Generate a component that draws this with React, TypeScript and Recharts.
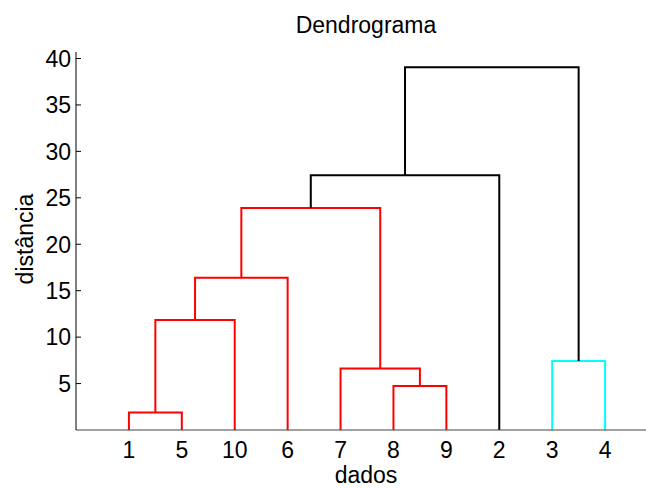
import { LineChart, Line, XAxis, YAxis } from 'recharts';

// leaf labels in the order they appear along the bottom
const leafOrder = [1, 5, 10, 6, 7, 8, 9, 2, 3, 4];

// linkage rows: ids 1-10 are leaves, 11+ are the clusters made by earlier rows
const linkLeft = [1, 8, 7, 3, 11, 15, 16, 17, 18];
const linkRight = [5, 9, 12, 4, 10, 6, 13, 2, 14];
const linkHeight = [1.89, 4.73, 6.63, 7.42, 11.84, 16.4, 23.9, 27.42, 39.06];
const linkColor = ['#ff0000', '#ff0000', '#ff0000', '#00ffff', '#ff0000', '#ff0000', '#ff0000', '#000000', '#000000'];

const yTicks = [5, 10, 15, 20, 25, 30, 35, 40];
const xTicks = leafOrder.map((_, i) => i + 1);

const FONT = '"Liberation Sans", Arial, sans-serif';
const FONT_SIZE = 23;

// turn the linkage rows into the usual upside-down U shapes
function buildLinks() {
  const pos: Record<number, number> = {};
  const height: Record<number, number> = {};
  leafOrder.forEach((leaf, i) => {
    pos[leaf] = i + 1;
    height[leaf] = 0;
  });
  return linkHeight.map((h, i) => {
    const a = linkLeft[i];
    const b = linkRight[i];
    const id = leafOrder.length + 1 + i;
    pos[id] = (pos[a] + pos[b]) / 2;
    height[id] = h;
    return {
      id,
      color: linkColor[i],
      points: [
        { x: pos[a], y: height[a] },
        { x: pos[a], y: h },
        { x: pos[b], y: h },
        { x: pos[b], y: height[b] },
      ],
    };
  });
}

const links = buildLinks();

// y ticks point inward, like the matlab default
const YTick = (props: any) => {
  const { x, y, payload } = props;
  return (
    <g>
      <line x1={x + 5} x2={x + 10} y1={y} y2={y} stroke="#000" strokeWidth={1} />
      <text x={x} y={y} dy="0.36em" textAnchor="end" fill="#000" fontSize={FONT_SIZE} fontFamily={FONT}>
        {payload.value}
      </text>
    </g>
  );
};

export default function App() {
  return (
    <div style={{ position: 'absolute', left: 0, top: 0, width: 646, height: 489, overflow: 'hidden', background: '#fff' }}>
      <LineChart
        width={660}
        height={489}
        margin={{ top: 52, right: 2, bottom: 0, left: 0 }}
        style={{ fontFamily: FONT }}
      >
        <XAxis
          type="number"
          dataKey="x"
          domain={[0, 11]}
          ticks={xTicks}
          tickFormatter={(v: number) => String(leafOrder[v - 1])}
          height={59}
          tickLine={false}
          tickSize={0}
          tickMargin={12}
          axisLine={{ stroke: '#444', strokeWidth: 1 }}
          tick={{ fill: '#000', fontSize: FONT_SIZE, fontFamily: FONT }}
          allowDataOverflow
        />
        <YAxis
          type="number"
          domain={[0, 40.7]}
          ticks={yTicks}
          width={76}
          tickLine={false}
          tickSize={0}
          tickMargin={5}
          axisLine={{ stroke: '#000', strokeWidth: 1 }}
          tick={<YTick />}
          allowDataOverflow
        />
        {links.map((link) => (
          <Line
            key={link.id}
            data={link.points}
            dataKey="y"
            type="linear"
            stroke={link.color}
            strokeWidth={2}
            dot={false}
            activeDot={false}
            isAnimationActive={false}
          />
        ))}
        <text x={366} y={33} textAnchor="middle" fill="#000" fontSize={FONT_SIZE} fontFamily={FONT}>
          Dendrograma
        </text>
        <text x={366} y={483} textAnchor="middle" fill="#000" fontSize={FONT_SIZE} fontFamily={FONT}>
          dados
        </text>
        <text
          x={33}
          y={239}
          transform="rotate(-90 33 239)"
          textAnchor="middle"
          fill="#000"
          fontSize={FONT_SIZE}
          fontFamily={FONT}
        >
          distância
        </text>
      </LineChart>
    </div>
  );
}
